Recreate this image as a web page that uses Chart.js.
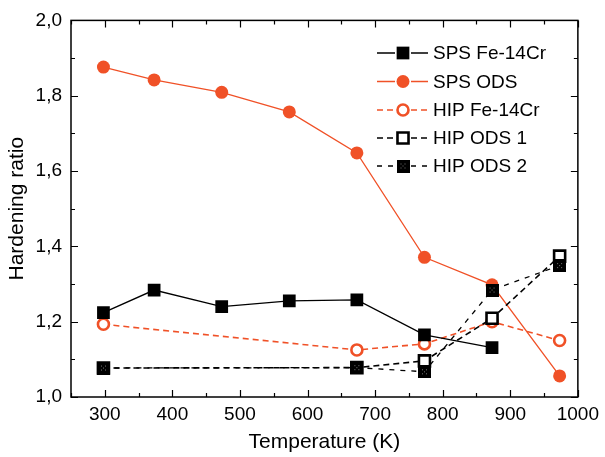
<!DOCTYPE html>
<html>
<head>
<meta charset="utf-8">
<script src="https://cdn.jsdelivr.net/npm/chart.js@4.4.1/dist/chart.umd.min.js"></script>
<style>
  html, body { margin: 0; padding: 0; background: #fff; }
  canvas { display: block; }
</style>
</head>
<body>
<canvas id="c" width="605" height="457"></canvas>
<script>
// ---- Data ----
const seriesNames = ['SPS Fe-14Cr', 'SPS ODS', 'HIP Fe-14Cr', 'HIP ODS 1', 'HIP ODS 2'];
const spsFeTemps  = [298, 373, 473, 573, 673, 773, 873];
const spsFeVals   = [1.224, 1.284, 1.240, 1.255, 1.258, 1.165, 1.131];
const spsOdsTemps = [298, 373, 473, 573, 673, 773, 873, 973];
const spsOdsVals  = [1.876, 1.842, 1.809, 1.757, 1.648, 1.371, 1.298, 1.056];
const hipTemps    = [298, 673, 773, 873, 973];
const hipFeVals   = [1.193, 1.125, 1.141, 1.200, 1.150];
const hipOds1Vals = [1.077, 1.078, 1.096, 1.209, 1.374];
const hipOds2Vals = [1.077, 1.078, 1.067, 1.284, 1.349];
const xTickValues = [300, 400, 500, 600, 700, 800, 900, 1000];
const yTickValues = [1.0, 1.2, 1.4, 1.6, 1.8, 2.0];
const xAxisTitle = 'Temperature (K)';
const yAxisTitle = 'Hardening ratio';

// ---- Styles ----
const ORANGE = '#F05127';
const FONT = 'Arial, "Liberation Sans", Helvetica, sans-serif';

function pts(xs, ys) { return xs.map((x, i) => ({ x: x, y: ys[i] })); }

// textured black square marker for HIP ODS 2
function makeDottedSquare() {
  const s = 13;
  const cv = document.createElement('canvas');
  cv.width = s; cv.height = s;
  const g = cv.getContext('2d');
  g.fillStyle = '#000';
  g.fillRect(0, 0, s, s);
  g.fillStyle = '#777';
  [[4,4],[8,4],[6,6],[4,8],[8,8]].forEach(p => g.fillRect(p[0], p[1], 1, 1));
  return cv;
}
const dottedSquare = makeDottedSquare();

const datasets = [
  { label: seriesNames[0], data: pts(spsFeTemps, spsFeVals), order: 0,
    borderColor: '#000', backgroundColor: '#000', borderWidth: 1.3,
    pointStyle: 'rect', pointRadius: 9, pointBorderWidth: 0,
    pointBorderColor: '#000', pointBackgroundColor: '#000',
    legendDash: [] },
  { label: seriesNames[1], data: pts(spsOdsTemps, spsOdsVals), order: 0,
    borderColor: ORANGE, backgroundColor: ORANGE, borderWidth: 1.3,
    pointStyle: 'circle', pointRadius: 6.5, pointBorderWidth: 0,
    pointBorderColor: ORANGE, pointBackgroundColor: ORANGE,
    legendDash: [] },
  { label: seriesNames[2], data: pts(hipTemps, hipFeVals), order: 0,
    borderColor: ORANGE, backgroundColor: '#fff', borderWidth: 1.6, borderDash: [6, 4],
    pointStyle: 'circle', pointRadius: 5.5, pointBorderWidth: 2.6,
    pointBorderColor: ORANGE, pointBackgroundColor: '#fff',
    legendDash: [6, 4] },
  { label: seriesNames[3], data: pts(hipTemps, hipOds1Vals), order: -1,
    borderColor: '#000', backgroundColor: '#fff', borderWidth: 1.6, borderDash: [6, 4],
    pointStyle: 'rect', pointRadius: 7.8, pointBorderWidth: 2.6,
    pointBorderColor: '#000', pointBackgroundColor: '#fff',
    legendDash: [6, 4] },
  { label: seriesNames[4], data: pts(hipTemps, hipOds2Vals), order: -2,
    borderColor: '#000', backgroundColor: '#000', borderWidth: 1.3, borderDash: [5, 6],
    pointStyle: dottedSquare, pointRadius: 7, pointBorderWidth: 0,
    pointBorderColor: '#000', pointBackgroundColor: '#000',
    legendDash: [5, 6] }
];

// frame, inward ticks and legend
const framePlugin = {
  id: 'frame',
  afterDatasetsDraw(chart) {
    const ctx = chart.ctx, a = chart.chartArea;
    const xs = chart.scales.x, ys = chart.scales.y;
    ctx.save();
    ctx.strokeStyle = '#000';
    ctx.lineWidth = 1.5;
    ctx.setLineDash([]);
    ctx.strokeRect(a.left, a.top, a.right - a.left, a.bottom - a.top);
    ctx.lineWidth = 1.2;
    ctx.beginPath();
    for (let v = 250; v <= 1000; v += 50) {
      const px = Math.round(xs.getPixelForValue(v)) + 0.5;
      const len = (v % 100 === 0) ? 7 : 4;
      ctx.moveTo(px, a.bottom); ctx.lineTo(px, a.bottom - len);
      ctx.moveTo(px, a.top); ctx.lineTo(px, a.top + len);
    }
    for (let k = 0; k <= 10; k++) {
      const v = 1 + k * 0.1;
      const py = Math.round(ys.getPixelForValue(v)) + 0.5;
      const len = (k % 2 === 0) ? 7 : 4;
      ctx.moveTo(a.left, py); ctx.lineTo(a.left + len, py);
      ctx.moveTo(a.right, py); ctx.lineTo(a.right - len, py);
    }
    ctx.stroke();

    // legend
    const x0 = 377, x1 = 428, xm = 403, xt = 433;
    const rowY = [53, 81.5, 110, 138, 166];
    ctx.font = '19px ' + FONT;
    ctx.textBaseline = 'middle';
    ctx.textAlign = 'left';
    chart.data.datasets.forEach((ds, i) => {
      const y = rowY[i];
      ctx.strokeStyle = ds.borderColor;
      ctx.lineWidth = ds.borderWidth;
      ctx.setLineDash(ds.legendDash);
      ctx.beginPath();
      ctx.moveTo(x0, y); ctx.lineTo(xm - 8, y);
      ctx.moveTo(xm + 8, y); ctx.lineTo(x1, y);
      ctx.stroke();
      ctx.setLineDash([]);
      ctx.fillStyle = ds.pointBackgroundColor;
      ctx.strokeStyle = ds.pointBorderColor;
      ctx.lineWidth = ds.pointBorderWidth;
      Chart.helpers.drawPoint(ctx, {
        pointStyle: ds.pointStyle,
        rotation: 0,
        radius: ds.pointRadius,
        borderWidth: ds.pointBorderWidth
      }, xm, y);
      ctx.fillStyle = '#000';
      ctx.fillText(ds.label, xt, y + 1);
    });
    ctx.restore();
  }
};

new Chart(document.getElementById('c'), {
  type: 'line',
  data: { datasets: datasets },
  plugins: [framePlugin],
  options: {
    responsive: false,
    animation: false,
    layout: { padding: { top: 20, right: 24, left: 0, bottom: 0 } },
    elements: { line: { tension: 0 } },
    plugins: { legend: { display: false }, tooltip: { enabled: false } },
    scales: {
      x: {
        type: 'linear', min: 250, max: 1000,
        afterFit: s => { s.height = 60; },
        afterBuildTicks: s => { s.ticks = xTickValues.map(v => ({ value: v })); },
        grid: { display: false, drawTicks: false },
        border: { display: false },
        ticks: { color: '#000', font: { family: FONT, size: 19 }, padding: 6, maxRotation: 0,
                 callback: v => String(v) },
        title: { display: true, text: xAxisTitle, color: '#000',
                 font: { family: FONT, size: 21 }, padding: { top: 0, bottom: 2 } }
      },
      y: {
        type: 'linear', min: 1.0, max: 2.0,
        afterFit: s => { s.width = 71; },
        afterBuildTicks: s => { s.ticks = yTickValues.map(v => ({ value: v })); },
        grid: { display: false, drawTicks: false },
        border: { display: false },
        ticks: { color: '#000', font: { family: FONT, size: 19 }, padding: 9,
                 callback: v => Number(v).toFixed(1).replace('.', ',') },
        title: { display: true, text: yAxisTitle, color: '#000',
                 font: { family: FONT, size: 21 }, padding: { top: 5, bottom: 0 } }
      }
    }
  }
});
</script>
</body>
</html>
